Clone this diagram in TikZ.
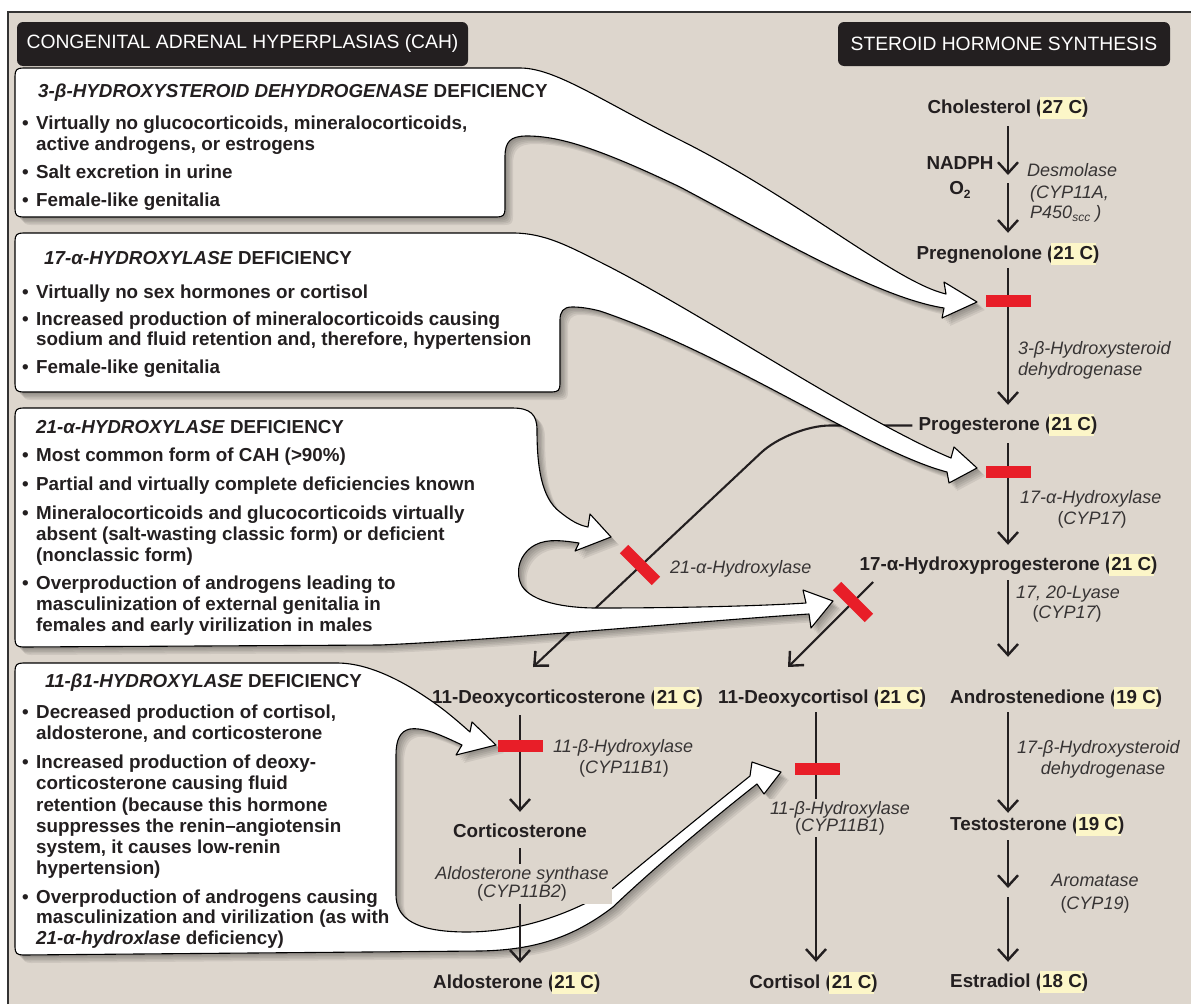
\documentclass[tikz,border=0pt]{standalone}
\usepackage{fontspec}
\setmainfont{Liberation Sans}
\usetikzlibrary{arrows.meta}
\definecolor{bg}{RGB}{221,214,205}
\definecolor{txt}{RGB}{35,31,32}
\definecolor{lab}{RGB}{55,52,52}
\definecolor{barred}{RGB}{232,30,40}
\definecolor{hly}{RGB}{252,246,200}
\definecolor{hdr}{RGB}{35,31,32}
\newcommand\hlc[1]{{\setlength\fboxsep{2.5pt}\rlap{\hspace*{-2.5pt}\colorbox{hly}{\vphantom{(}\phantom{#1}}}#1}}
\newcommand\subx[1]{\raisebox{-0.22em}{\fontsize{12}{12}\selectfont #1}}
\newcommand\bulx{\makebox[14pt][l]{•}}
\def\shapeA{(15,76) .. controls (15,70) and (17,68) .. (23,68) -- (520,68) .. controls (555,68) and (600,100) .. (680,140) .. controls (800,200) and (895,282) .. (946,294) -- (944,282) -- (977,302) -- (942,318) -- (944,308) .. controls (880,298) and (780,240) .. (680,187) .. controls (600,149) and (560,136) .. (527,136) .. controls (510,136) and (505,142) .. (505,157) -- (505,209) .. controls (505,215) and (503,217) .. (497,217) -- (23,217) .. controls (17,217) and (15,215) .. (15,209) -- cycle}
\def\shapeB{(15,241) .. controls (15,235) and (17,233) .. (23,233) -- (513,233) .. controls (545,233) and (570,247) .. (600,262) .. controls (700,312) and (860,420) .. (951,458) -- (954,447) -- (977,468) -- (949,483) -- (947,472) .. controls (870,452) and (730,355) .. (600,311) .. controls (588,308) and (580,307) .. (572,307) .. controls (563,307) and (560,312) .. (560,320) -- (560,384) .. controls (560,390) and (558,392) .. (552,392) -- (23,392) .. controls (17,392) and (15,390) .. (15,384) -- cycle}
\def\shapeC{(15,416) .. controls (15,410) and (17,408) .. (23,408) -- (512,408) .. controls (530,408) and (537,414) .. (537,430) .. controls (537,465) and (541,498) .. (560,512) .. controls (570,520) and (578,525) .. (588,527) -- (590,514) -- (611,537) -- (575,551) -- (579,543) .. controls (565,541) and (548,538) .. (535,545) .. controls (520,553) and (514,572) .. (522,586) .. controls (532,602) and (565,608) .. (597,608) .. controls (680,608) and (760,606) .. (806,603) -- (803,590) -- (833,601) -- (811,628) -- (809,614) .. controls (700,621) and (500,640) .. (380,645) -- (23,647) .. controls (17,647) and (15,645) .. (15,639) -- cycle}
\def\shapeD{(15,671) .. controls (15,665) and (17,663) .. (23,663) -- (337,663) .. controls (372,663) and (410,685) .. (440,707) .. controls (452,716) and (462,725) .. (470,732) -- (472,722) -- (496,745) -- (456,755) -- (462,745) .. controls (445,737) and (425,727) .. (410,729) .. controls (400,731) and (396,740) .. (396,755) -- (396,895) .. controls (396,918) and (415,928) .. (445,931) .. controls (510,937) and (570,915) .. (613,888) .. controls (650,857) and (720,800) .. (750,776) -- (752,762) -- (781,772) -- (764,794) -- (757,784) .. controls (730,805) and (660,862) .. (613,907) .. controls (570,940) and (530,950) .. (480,951) -- (23,955) .. controls (17,955) and (15,953) .. (15,947) -- cycle}
\tikzset{
  bx/.style={font=\fontsize{18.8}{21}\selectfont\bfseries, text=txt, inner sep=0pt, anchor=base west},
  pw/.style={font=\fontsize{18.8}{21}\selectfont\bfseries, text=txt, inner sep=0pt, text height=13pt, text depth=4pt},
  lb/.style={font=\fontsize{18}{20}\selectfont\itshape, text=lab, inner sep=0pt},
  hdrbox/.style={fill=hdr, rounded corners=6pt, text=white, font=\fontsize{19.3}{20}\selectfont, inner sep=0pt, minimum height=44pt},
  arr/.style={draw=txt, line width=2.1pt, -{Straight Barb[length=11pt,width=20pt,line width=2.4pt]}},
  rb/.style={fill=barred, minimum width=45pt, minimum height=12pt, inner sep=0pt},
  calloutbox/.style={fill=white, draw=black, line width=1.1pt, line join=round},
  shdw/.style={fill=black, opacity=0.07},
}
\begin{document}
\begin{tikzpicture}[x=1pt,y=-1pt]
\useasboundingbox (0,0) rectangle (1191,1004);
\fill[white] (0,0) rectangle (1191,1004);
\fill[bg] (8,12) rectangle (1191,1004);
\draw[line width=1.5pt, black!80] (8,1004) -- (8,12) -- (1191,12);
% headers
\node[hdrbox, minimum width=451pt] (hL) at (242.5,44) {CONGENITAL ADRENAL HYPERPLASIAS (CAH)};
\node[hdrbox, minimum width=332pt] (hR) at (1004,44) {STEROID HORMONE SYNTHESIS};
% column coordinates
\coordinate (colR) at (1008,0);
\coordinate (colA) at (520,0);
\coordinate (colC) at (816,0);
\coordinate (cm) at (1008,179);
\coordinate (tm) at (1008,892);
\coordinate (pcorner) at (790,425.5);
\coordinate (docin) at (533,667);
\coordinate (ohpout) at (873,582);
\coordinate (dcin) at (788,667);
% progesterone (needed before the callouts)
\node[pw, anchor=base] (prog) at (1008,430) {Progesterone (\hlc{21 C})};
\draw[arr, rounded corners=40pt] ([xshift=-6pt]prog.west) -- (pcorner) -- (docin);
% shadows
\foreach \s in {2,3.5,5,6.5,8}{
  \fill[shdw, shift={(\s,\s)}] \shapeA;
  \fill[shdw, shift={(\s,\s)}] \shapeB;
  \fill[shdw, shift={(\s,\s)}] \shapeC;
  \fill[shdw, shift={(\s,\s)}] \shapeD;
}
\filldraw[calloutbox] \shapeA;
\filldraw[calloutbox] \shapeB;
\filldraw[calloutbox] \shapeC;
\filldraw[calloutbox] \shapeD;
% pathway nodes
\node[pw, anchor=base] (chol) at (1008,113) {Cholesterol (\hlc{27 C})};
\node[pw, anchor=base] (preg) at (1008,259) {Pregnenolone (\hlc{21 C})};
\node[pw, anchor=base] (ohp) at (1008.5,570) {17-α-Hydroxyprogesterone (\hlc{21 C})};
\node[pw, anchor=base west] (andro) at (950,703) {Androstenedione (\hlc{19 C})};
\node[pw, anchor=base west] (testo) at (950,830) {Testosterone (\hlc{19 C})};
\node[pw, anchor=base west] (estr) at (950,987) {Estradiol (\hlc{18 C})};
\node[pw, anchor=base west] (doc) at (432,703) {11-Deoxycorticosterone (\hlc{21 C})};
\node[pw, anchor=base west] (dcort) at (718,703) {11-Deoxycortisol (\hlc{21 C})};
\node[pw, anchor=base] (cortico) at (520,837) {Corticosterone};
\node[pw, anchor=base west] (aldo) at (433,988) {Aldosterone (\hlc{21 C})};
\node[pw, anchor=base] (cortisol) at (813.5,988) {Cortisol (\hlc{21 C})};
\node[pw, anchor=base] (nadph) at (960,169) {NADPH};
\node[pw, anchor=base] (otwo) at (960,194) {O\subx{2}};
% connectors
\draw[arr, shorten <=9pt, shorten >=4pt] (chol.south -| colR) -- (cm);
\draw[arr, shorten <=4pt, shorten >=13pt] (cm) -- (preg.north -| colR);
\draw[arr, shorten <=5pt, shorten >=12pt] (preg.south -| colR) -- (prog.north -| colR);
\draw[arr, shorten <=9pt, shorten >=12pt] (prog.south -| colR) -- (ohp.north -| colR);
\draw[arr, shorten <=6pt, shorten >=33pt] (ohp.south -| colR) -- (andro.north -| colR);
\draw[arr, shorten <=5pt, shorten >=4pt] (andro.south -| colR) -- (testo.north -| colR);
\draw[arr, shorten <=6pt, shorten >=4pt] (testo.south -| colR) -- (tm);
\draw[arr, shorten <=5pt, shorten >=12pt] (tm) -- (estr.north -| colR);
\draw[arr, shorten <=8pt, shorten >=12pt] (doc.south -| colA) -- (cortico.north -| colA);
\draw[arr, shorten <=7pt, shorten >=12pt] (cortico.south -| colA) -- (aldo.north -| colA);
\draw[arr, shorten <=5pt, shorten >=13pt] (dcort.south -| colC) -- (cortisol.north -| colC);
\draw[arr] (ohpout) -- (dcin);
% red blocks
\node[rb] (rb1) at (1008,301) {};
\node[rb] (rb2) at (1008,472) {};
\node[rb, rotate=-45] (rb3) at (640,565) {};
\node[rb, rotate=-45] (rb4) at (853,602) {};
\node[rb] (rb5) at (520,746) {};
\node[rb] (rb6) at (817,769) {};
% enzyme labels
\node[lb, anchor=base west] (desm) at (1027,176) {Desmolase};
\node[lb, anchor=base west] (cypa) at (1030,198) {(CYP11A,};
\node[lb, anchor=base west] (pscc) at (1030,218) {P450\subx{scc} )};
\node[lb, anchor=base west] (hsd1) at (1018,354) {3-β-Hydroxysteroid};
\node[lb, anchor=base west] (hsd2) at (1018,375) {dehydrogenase};
\node[lb, anchor=base west] (h17a) at (1020,503) {17-α-Hydroxylase};
\node[lb, anchor=base] (h17b) at (1092,524) {{\upshape(}CYP17{\upshape)}};
\node[lb, anchor=base west] (lya1) at (1016,598) {17, 20-Lyase};
\node[lb, anchor=base] (lya2) at (1067,618) {{\upshape(}CYP17{\upshape)}};
\node[lb, anchor=base west] (h21) at (670,573) {21-α-Hydroxylase};
\node[lb, anchor=base west] (h11a) at (553,752) {11-β-Hydroxylase};
\node[lb, anchor=base] (h11b) at (624,773) {{\upshape(}CYP11B1{\upshape)}};
\node[lb, fill=bg, align=center, font=\fontsize{18}{17}\selectfont\itshape, inner xsep=1pt, inner ysep=2pt] (h11c) at (840,818) {11-β-Hydroxylase\\{\upshape(}CYP11B1{\upshape)}};
\node[lb, fill=bg, align=center, font=\fontsize{18}{18}\selectfont\itshape, inner xsep=3pt, inner ysep=3pt] (asyn) at (522,884) {Aldosterone synthase\\{\upshape(}CYP11B2{\upshape)}};
\node[lb, anchor=base west] (hsd3) at (1017,753) {17-β-Hydroxysteroid};
\node[lb, anchor=base] (hsd4) at (1103,774) {dehydrogenase};
\node[lb, anchor=base] (arom1) at (1095,886) {Aromatase};
\node[lb, anchor=base] (arom2) at (1095,909) {{\upshape(}CYP19{\upshape)}};
% box 1
\node[bx] (t1) at (38,97) {\textit{3-β-HYDROXYSTEROID DEHYDROGENASE} DEFICIENCY};
\node[bx] (t1a) at (22,129) {\bulx Virtually no glucocorticoids, mineralocorticoids,};
\node[bx] (t1b) at (36,150) {active androgens, or estrogens};
\node[bx] (t1c) at (22,178) {\bulx Salt excretion in urine};
\node[bx] (t1d) at (22,206) {\bulx Female-like genitalia};
% box 2
\node[bx] (t2) at (44,264) {\textit{17-α-HYDROXYLASE} DEFICIENCY};
\node[bx] (t2a) at (22,298) {\bulx Virtually no sex hormones or cortisol};
\node[bx] (t2b) at (22,325) {\bulx Increased production of mineralocorticoids causing};
\node[bx] (t2c) at (36,345) {sodium and fluid retention and, therefore, hypertension};
\node[bx] (t2d) at (22,373) {\bulx Female-like genitalia};
% box 3
\node[bx] (t3) at (36,433) {\textit{21-α-HYDROXYLASE} DEFICIENCY};
\node[bx] (t3a) at (22,461) {\bulx Most common form of CAH (>90\%)};
\node[bx] (t3b) at (22,490) {\bulx Partial and virtually complete deficiencies known};
\node[bx] (t3c) at (22,519) {\bulx Mineralocorticoids and glucocorticoids virtually};
\node[bx] (t3d) at (36,540) {absent (salt-wasting classic form) or deficient};
\node[bx] (t3e) at (36,561) {(nonclassic form)};
\node[bx] (t3f) at (22,589) {\bulx Overproduction of androgens leading to};
\node[bx] (t3g) at (36,610) {masculinization of external genitalia in};
\node[bx] (t3h) at (36,631) {females and early virilization in males};
% box 4
\node[bx] (t4) at (45,687) {\textit{11-β1-HYDROXYLASE} DEFICIENCY};
\node[bx] (t4a) at (22,718) {\bulx Decreased production of cortisol,};
\node[bx] (t4b) at (36,739) {aldosterone, and corticosterone};
\node[bx] (t4c) at (22,768) {\bulx Increased production of deoxy-};
\node[bx] (t4d) at (36,789) {corticosterone causing fluid};
\node[bx] (t4e) at (36,811) {retention (because this hormone};
\node[bx] (t4f) at (36,832) {suppresses the renin--angiotensin};
\node[bx] (t4g) at (36,853) {system, it causes low-renin};
\node[bx] (t4h) at (36,874) {hypertension)};
\node[bx] (t4i) at (22,903) {\bulx Overproduction of androgens causing};
\node[bx] (t4j) at (36,923) {masculinization and virilization (as with};
\node[bx] (t4k) at (36,944) {\textit{21-α-hydroxlase} deficiency)};
\end{tikzpicture}
\end{document}
